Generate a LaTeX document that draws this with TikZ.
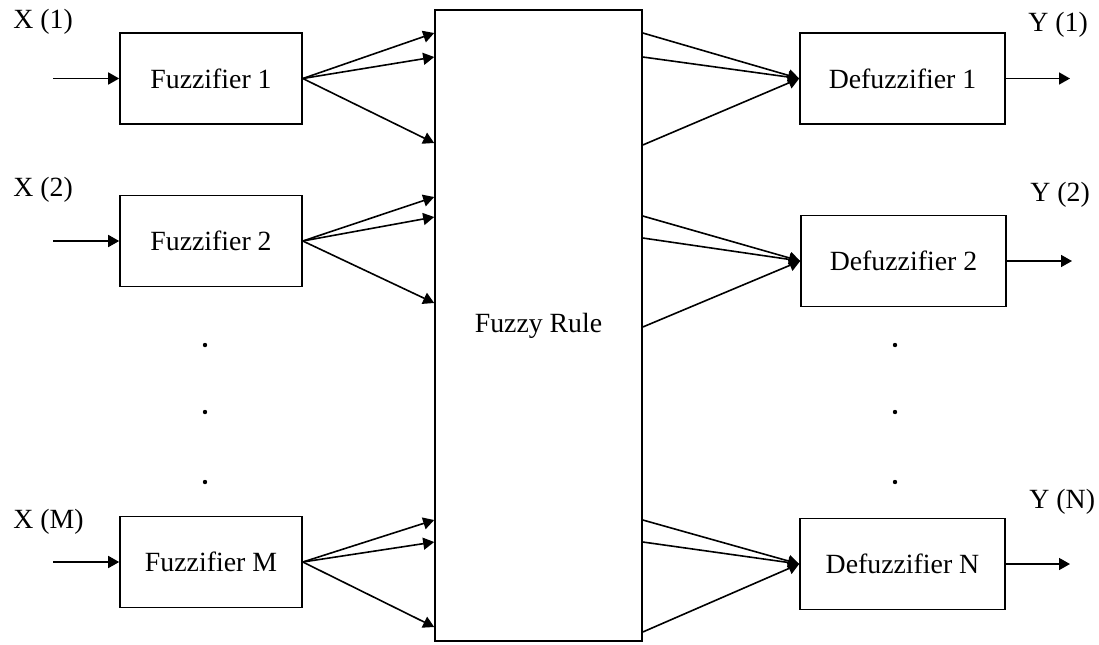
\documentclass[tikz,border=0pt]{standalone}
\usepackage{fontspec}
\setmainfont{Liberation Serif}
\usetikzlibrary{arrows.meta}
\begin{document}
\begin{tikzpicture}[x=0.5pt,y=-0.5pt,
  blockbox/.style={draw,line width=0.8pt,minimum width=91pt,minimum height=45.5pt,inner sep=0pt,font=\fontsize{13.9}{16}\selectfont},
  defbox/.style={blockbox,minimum width=102.5pt},
  rulebox/.style={draw,line width=0.8pt,minimum width=103.5pt,minimum height=315.5pt,inner sep=0pt,font=\fontsize{13.9}{16}\selectfont},
  lbl/.style={anchor=west,inner sep=0pt,font=\fontsize{13.9}{16}\selectfont},
  arr/.style={line width=0.8pt,-{Triangle[length=5.5pt,width=6pt]}},
  dotmark/.style={fill,circle,inner sep=0pt,minimum size=2.2pt}
]
\useasboundingbox (0,0) rectangle (1099,644);

% central rule block
\node[rulebox] (rule) at (538.5,325.5) {Fuzzy Rule};

% fuzzifiers
\node[blockbox] (fz1) at (211,78.5) {Fuzzifier 1};
\node[blockbox] (fz2) at (211,241) {Fuzzifier 2};
\node[blockbox] (fzm) at (211,562) {Fuzzifier M};

% defuzzifiers
\node[defbox] (df1) at (902.5,78.5) {Defuzzifier 1};
\node[defbox] (df2) at (903.5,261) {Defuzzifier 2};
\node[defbox] (dfn) at (902.5,564) {Defuzzifier N};

% input / output labels
\node[lbl] (x1) at (13,22) {X (1)};
\node[lbl] (x2) at (13,190) {X (2)};
\node[lbl] (xm) at (13,522) {X (M)};
\node[lbl] (y1) at (1028,25) {Y (1)};
\node[lbl] (y2) at (1030,195) {Y (2)};
\node[lbl] (yn) at (1029,502) {Y (N)};

% free ends of input and output arrows
\coordinate (i1) at (53,78.5);
\coordinate (i2) at (53,241);
\coordinate (im) at (53,562);
\coordinate (o1) at (1070,78.5);
\coordinate (o2) at (1072,261);
\coordinate (on) at (1070,564);

\draw[arr] (i1) -- (fz1);
\draw[arr] (i2) -- (fz2);
\draw[arr] (im) -- (fzm);
\draw[arr] (df1) -- (o1);
\draw[arr] (df2) -- (o2);
\draw[arr] (dfn) -- (on);

% ports on the left side of the rule block
\coordinate (a1) at (rule.west |- 0,33);
\coordinate (a2) at (rule.west |- 0,57);
\coordinate (a3) at (rule.west |- 0,143);
\coordinate (b1) at (rule.west |- 0,197);
\coordinate (b2) at (rule.west |- 0,217);
\coordinate (b3) at (rule.west |- 0,303);
\coordinate (c1) at (rule.west |- 0,520);
\coordinate (c2) at (rule.west |- 0,542);
\coordinate (c3) at (rule.west |- 0,627);

\foreach \p in {a1,a2,a3} \draw[arr] (fz1.east) -- (\p);
\foreach \p in {b1,b2,b3} \draw[arr] (fz2.east) -- (\p);
\foreach \p in {c1,c2,c3} \draw[arr] (fzm.east) -- (\p);

% ports on the right side of the rule block
\coordinate (d1) at (rule.east |- 0,33);
\coordinate (d2) at (rule.east |- 0,57);
\coordinate (d3) at (rule.east |- 0,145);
\coordinate (e1) at (rule.east |- 0,216);
\coordinate (e2) at (rule.east |- 0,238);
\coordinate (e3) at (rule.east |- 0,327);
\coordinate (f1) at (rule.east |- 0,520);
\coordinate (f2) at (rule.east |- 0,542);
\coordinate (f3) at (rule.east |- 0,632);

\foreach \p in {d1,d2,d3} \draw[arr] (\p) -- (df1.west);
\foreach \p in {e1,e2,e3} \draw[arr] (\p) -- (df2.west);
\foreach \p in {f1,f2,f3} \draw[arr] (\p) -- (dfn.west);

% ellipsis dots
\foreach \yy in {345,412,482} {
  \node[dotmark] at (205,\yy) {};
  \node[dotmark] at (895,\yy) {};
}
\end{tikzpicture}
\end{document}
